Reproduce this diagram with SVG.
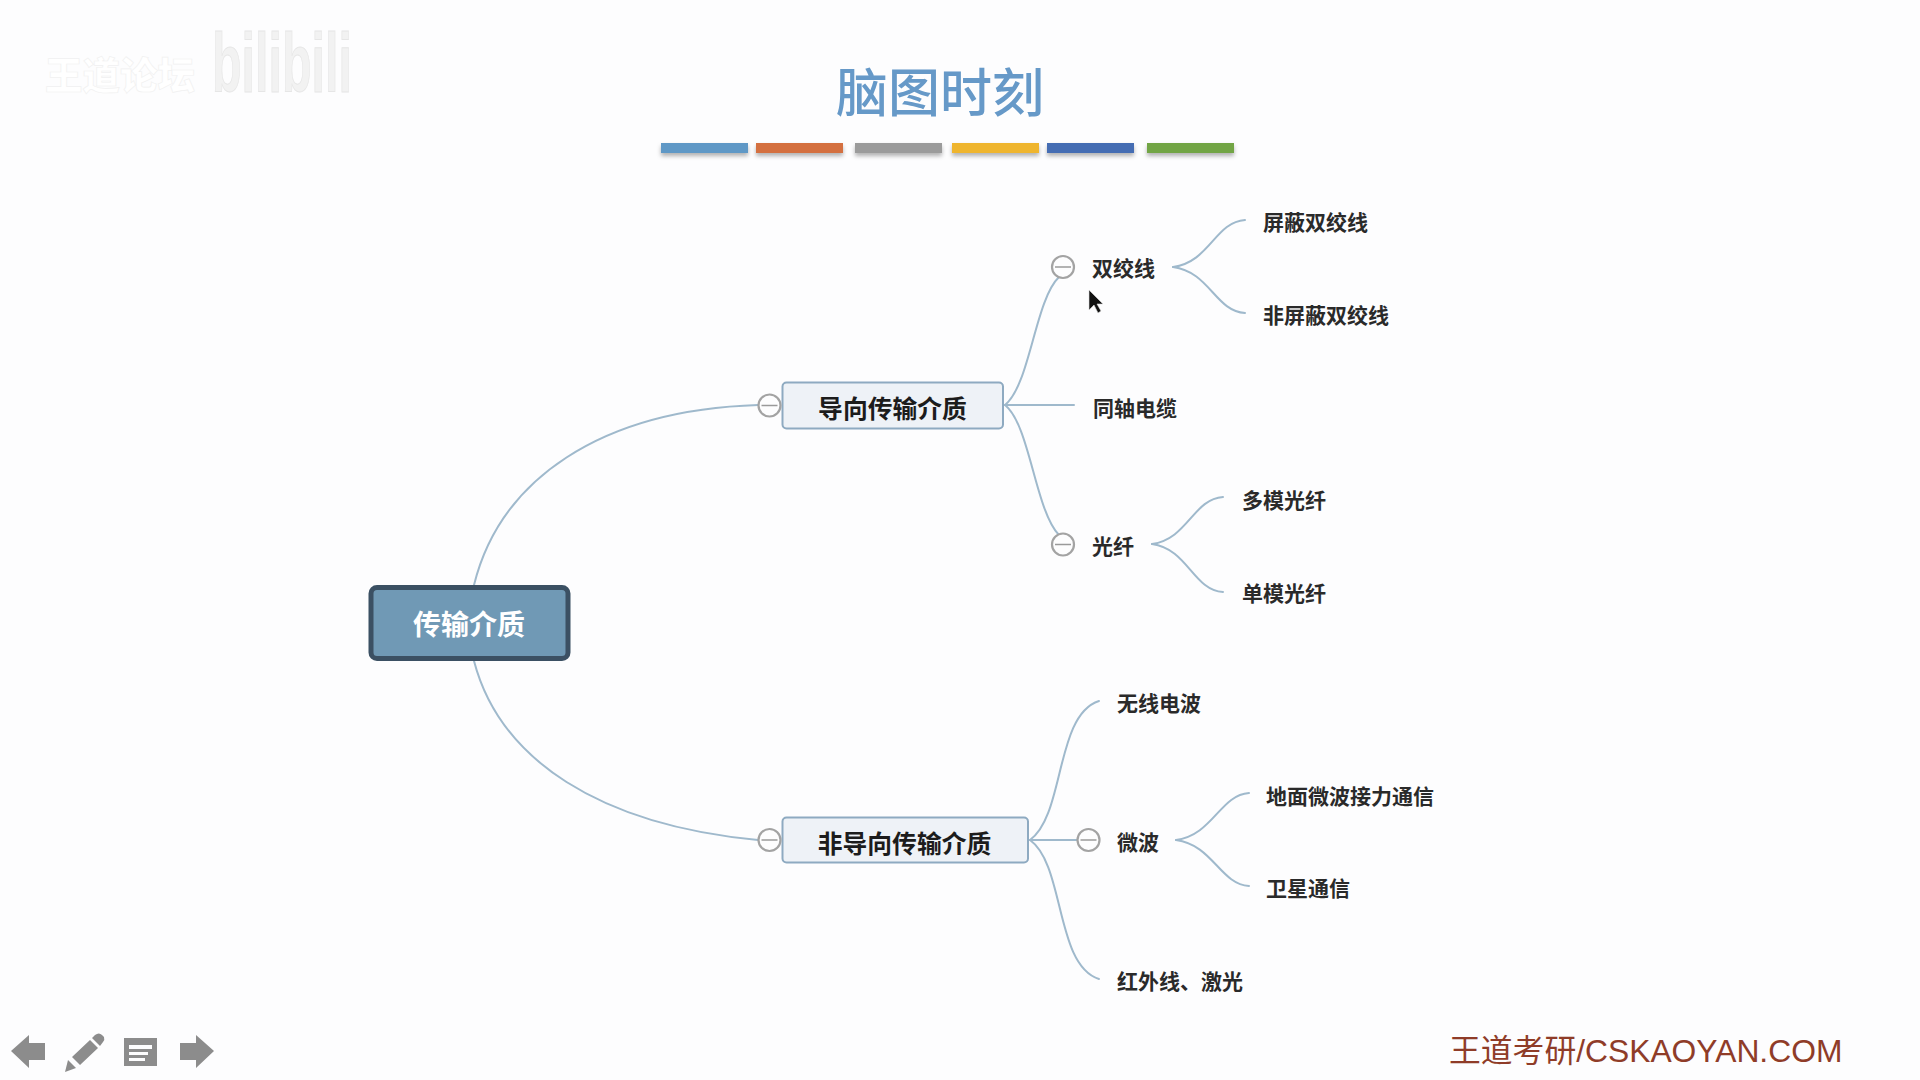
<svg xmlns="http://www.w3.org/2000/svg" width="1920" height="1080" viewBox="0 0 1920 1080">
  <style>
    text { font-family: "Noto Sans CJK SC", "Liberation Sans", sans-serif; dominant-baseline: central; }
    .leaf { font-size: 21px; font-weight: 700; fill: #2a2a2a; }
    .branch { font-size: 24.8px; font-weight: 700; fill: #1c1c1c; text-anchor: middle; }
    .link { fill: none; stroke: #9fb9cc; stroke-width: 2; stroke-linecap: round; }
    .toggle { fill: #fdfdfe; stroke: #a3a3a3; stroke-width: 2.2; }
    .dash { stroke: #9a9a9a; stroke-width: 1.5; }
    .bar { filter: url(#barShadow); }
    .tool { fill: #8c8c8c; }
  </style>
  <defs>
    <filter id="barShadow" x="-10%" y="-40%" width="120%" height="220%">
      <feDropShadow dx="0" dy="3" stdDeviation="2.2" flood-color="#000" flood-opacity="0.3"/>
    </filter>
    <g id="toggleMark">
      <circle class="toggle" r="11"/>
      <line class="dash" x1="-8" x2="8" y1="0" y2="0"/>
    </g>
  </defs>

  <rect width="1920" height="1080" fill="#fdfdfe"/>

  <g id="watermark">
    <text x="45" y="72" font-size="37.500" font-weight="900" fill="#ffffff" stroke="#f1f1f1" stroke-width="0.7">王道论坛</text>
    <text transform="translate(212 92) scale(1 1.9)" font-size="44" font-weight="700" fill="#f2f2f2" stroke="#e6e6e6" stroke-width="0.5" style="font-family:'Liberation Sans',sans-serif;dominant-baseline:auto" textLength="140" lengthAdjust="spacingAndGlyphs">bilibili</text>
  </g>

  <g id="title">
    <text x="940" y="89" font-size="52" font-weight="500" fill="#6699c8" text-anchor="middle">脑图时刻</text>
    <rect class="bar" x="661" y="143" width="87" height="10" fill="#5f98c6"/>
    <rect class="bar" x="756" y="143" width="87" height="10" fill="#d4703f"/>
    <rect class="bar" x="855" y="143" width="87" height="10" fill="#9b9b9b"/>
    <rect class="bar" x="952" y="143" width="87" height="10" fill="#efb52e"/>
    <rect class="bar" x="1047" y="143" width="87" height="10" fill="#456db3"/>
    <rect class="bar" x="1147" y="143" width="87" height="10" fill="#72a544"/>
  </g>

  <g id="connectors">
    <path class="link" d="M474 585C500 480 600 410 758 405"/>
    <path class="link" d="M474 661C500 760 600 825 758 840"/>
    <path class="link" d="M1005 405C1030 385 1035 300 1059 277"/>
    <path class="link" d="M1005 405H1074"/>
    <path class="link" d="M1005 405C1030 425 1035 510 1059 535"/>
    <path class="link" d="M1173 267C1210 262 1215 222 1245 220"/>
    <path class="link" d="M1173 267C1210 272 1215 311 1245 313"/>
    <path class="link" d="M1152 544C1188 539 1193 499 1223 497"/>
    <path class="link" d="M1152 544C1188 549 1193 590 1223 592"/>
    <path class="link" d="M1030 840C1065 815 1055 715 1099 701"/>
    <path class="link" d="M1030 840H1077"/>
    <path class="link" d="M1030 840C1065 865 1055 965 1099 979"/>
    <path class="link" d="M1176 840C1213 835 1220 795 1249 793"/>
    <path class="link" d="M1176 840C1213 845 1220 884 1249 886"/>
  </g>

  <g id="root">
    <rect x="371" y="587.500" width="197" height="71" rx="6" fill="#7099b5" stroke="#3b5063" stroke-width="5"/>
    <text x="469" y="622.500" font-size="28" font-weight="700" fill="#fff" text-anchor="middle">传输介质</text>
  </g>

  <g id="guided">
    <rect x="782.500" y="382.500" width="220.500" height="46" rx="4" fill="#eef2f7" stroke="#8eaac1" stroke-width="2"/>
    <use href="#toggleMark" x="769.500" y="405.500"/>
    <text class="branch" x="892.500" y="406.500">导向传输介质</text>
  </g>
  <g id="twisted-pair">
    <use href="#toggleMark" x="1063" y="267"/>
    <text class="leaf" x="1092" y="267">双绞线</text>
  </g>
  <g id="shielded"><text class="leaf" x="1263" y="221">屏蔽双绞线</text></g>
  <g id="unshielded"><text class="leaf" x="1263" y="314">非屏蔽双绞线</text></g>
  <g id="coaxial"><text class="leaf" x="1093" y="406.500">同轴电缆</text></g>
  <g id="fiber">
    <use href="#toggleMark" x="1063" y="544.500"/>
    <text class="leaf" x="1092" y="545">光纤</text>
  </g>
  <g id="multimode"><text class="leaf" x="1242" y="498.500">多模光纤</text></g>
  <g id="singlemode"><text class="leaf" x="1242" y="591.500">单模光纤</text></g>

  <g id="unguided">
    <rect x="782.500" y="817.500" width="245.500" height="45" rx="4" fill="#eef2f7" stroke="#8eaac1" stroke-width="2"/>
    <use href="#toggleMark" x="769.500" y="840"/>
    <text class="branch" x="904.500" y="841.500">非导向传输介质</text>
  </g>
  <g id="radio"><text class="leaf" x="1117" y="702">无线电波</text></g>
  <g id="microwave">
    <use href="#toggleMark" x="1088.500" y="840"/>
    <text class="leaf" x="1117" y="841">微波</text>
  </g>
  <g id="terrestrial"><text class="leaf" x="1266" y="795">地面微波接力通信</text></g>
  <g id="satellite"><text class="leaf" x="1266" y="887">卫星通信</text></g>
  <g id="infrared"><text class="leaf" x="1117" y="980">红外线、激光</text></g>

  <path id="pointer" d="M1089 290V310L1094 305L1098 313L1101 311L1097 304H1103Z" fill="#111" stroke="#ddd" stroke-width="0.6"/>

  <g id="toolbar">
    <path class="tool" d="M11 1051L29 1035V1043H45V1060H29V1068Z"/>
    <path class="tool" d="M65 1072L68 1060L76 1068ZM72 1057L90 1040L98 1048L80 1065ZM92 1038L95 1035Q99 1032 102 1035L104 1037Q105 1040 103 1042L100 1046Z"/>
    <path class="tool" fill-rule="evenodd" d="M124 1038H157V1066H124ZM129 1045V1049H152V1045ZM129 1052V1055H148V1052ZM129 1058V1061H145V1058Z"/>
    <path class="tool" d="M214 1051L196 1035V1043H180V1060H196V1068Z"/>
  </g>

  <g id="footer">
    <text x="1449" y="1051" font-size="31.800" fill="#8f3c28" style="font-family:'Liberation Sans','Noto Sans CJK SC',sans-serif">王道考研/CSKAOYAN.COM</text>
  </g>
</svg>
